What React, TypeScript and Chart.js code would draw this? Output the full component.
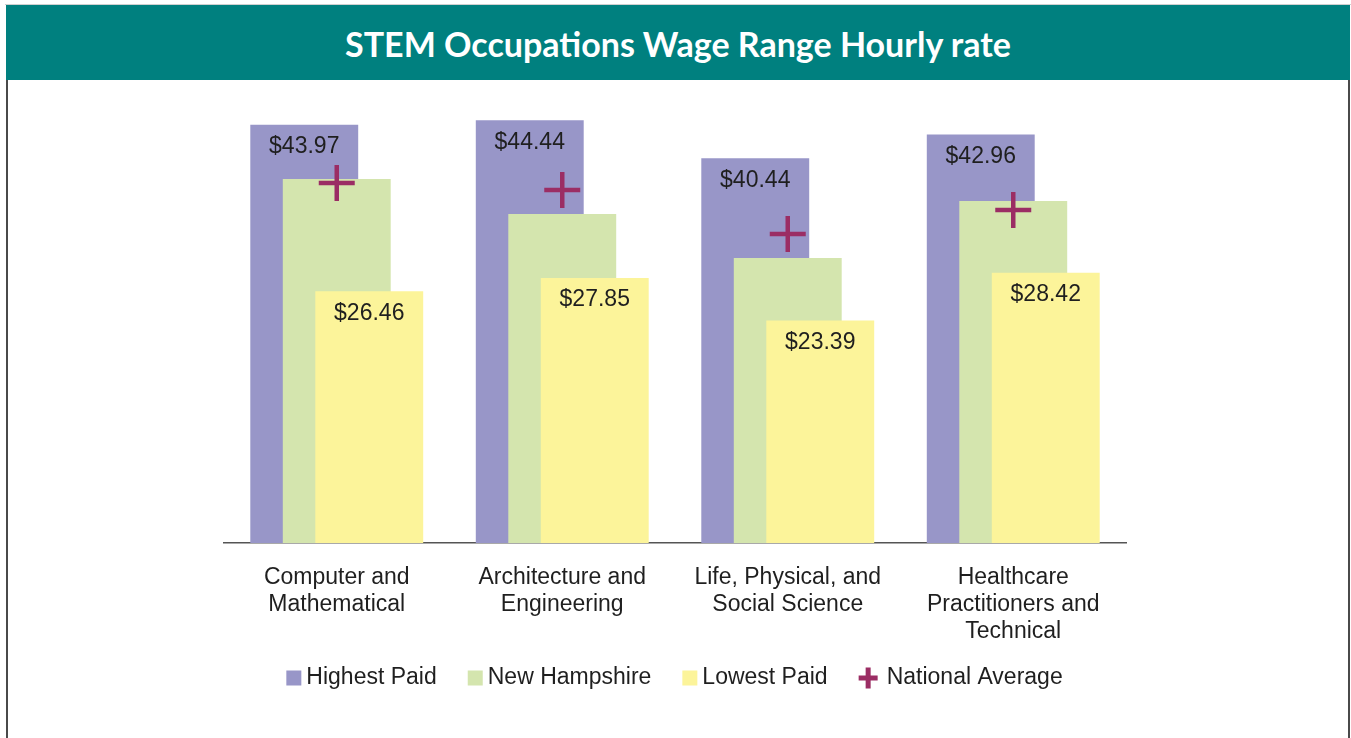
import React, { useEffect, useRef } from 'react';
import { Chart, registerables } from 'chart.js';

Chart.register(...registerables);

const categories: string[][] = [
  ['Computer and', 'Mathematical'],
  ['Architecture and', 'Engineering'],
  ['Life, Physical, and', 'Social Science'],
  ['Healthcare', 'Practitioners and', 'Technical'],
];
const highestPaid = [43.97, 44.44, 40.44, 42.96];
const newHampshire = [38.27, 34.59, 29.97, 35.96];
const lowestPaid = [26.46, 27.85, 23.39, 28.42];
const nationalAverage = [37.85, 37.11, 32.49, 35.01];
const seriesNames = ['Highest Paid', 'New Hampshire', 'Lowest Paid', 'National Average'];
const yMin = 0;
const yMax = 45;

const TITLE = 'STEM Occupations Wage Range Hourly rate';
const FONT = '"Liberation Sans", Arial, sans-serif';
const PURPLE = '#9896C8';
const GREEN = '#D4E5AE';
const YELLOW = '#FCF49A';
const PLUS = '#9B2D64';
const TEXT = '#1f1f1f';

const customPlugin = {
  id: 'customDraw',
  beforeDatasetsDraw(chart: any) {
    const metas = chart.getSortedVisibleDatasetMetas();
    for (const m of metas) chart._drawDataset(m);
    return false;
  },
  afterDraw(chart: any) {
    const ctx = chart.ctx as CanvasRenderingContext2D;
    ctx.save();
    ctx.font = `23px ${FONT}`;
    ctx.fillStyle = TEXT;
    ctx.textAlign = 'center';
    ctx.textBaseline = 'middle';
    const labelled: Array<[number, number]> = [[0, 22], [2, 22]];
    labelled.forEach(([di, off]) => {
      const meta = chart.getDatasetMeta(di);
      meta.data.forEach((el: any, i: number) => {
        const v = chart.data.datasets[di].data[i] as number;
        ctx.fillText('$' + v.toFixed(2), el.x, el.y + off);
      });
    });

    // legend
    const ds = chart.data.datasets;
    const gap = 31;
    const items = ds.map((d: any, i: number) => {
      const isPlus = i === 3;
      const boxW = isPlus ? 19 : 15;
      const textGap = isPlus ? 9 : 5;
      const tw = ctx.measureText(d.label).width;
      return { d, isPlus, boxW, textGap, tw, w: boxW + textGap + tw };
    });
    const total = items.reduce((s: number, it: any) => s + it.w, 0) + gap * (items.length - 1);
    let x = 674.5 - total / 2;
    const cy = 678;
    ctx.textAlign = 'left';
    items.forEach((it: any) => {
      if (it.isPlus) {
        ctx.fillStyle = PLUS;
        ctx.fillRect(x, cy - 2.5, it.boxW, 5);
        ctx.fillRect(x + it.boxW / 2 - 2.5, cy - 10.5, 5, 21);
      } else {
        ctx.fillStyle = it.d.backgroundColor;
        ctx.fillRect(x, cy - 7.5, 15, 15);
      }
      ctx.fillStyle = TEXT;
      ctx.fillText(it.d.label, x + it.boxW + it.textGap, cy);
      x += it.w + gap;
    });
    ctx.restore();
  },
};

export default function App() {
  const ref = useRef<HTMLCanvasElement | null>(null);

  useEffect(() => {
    document.body.style.margin = '0';
    const canvas = ref.current;
    if (!canvas) return;
    const chart = new Chart(canvas, {
      type: 'bar',
      data: {
        labels: categories,
        datasets: [
          { label: seriesNames[0], data: highestPaid, backgroundColor: PURPLE, order: 0 },
          { label: seriesNames[1], data: newHampshire, backgroundColor: GREEN, order: 0 },
          { label: seriesNames[2], data: lowestPaid, backgroundColor: YELLOW, order: 0 },
          {
            type: 'line',
            label: seriesNames[3],
            data: nationalAverage,
            showLine: false,
            pointStyle: 'cross',
            pointRadius: 18,
            pointHoverRadius: 18,
            pointBorderWidth: 4.5,
            pointHoverBorderWidth: 4.5,
            borderColor: PLUS,
            backgroundColor: PLUS,
            order: 0,
          } as any,
        ],
      },
      options: {
        responsive: false,
        animation: false,
        devicePixelRatio: 1,
        categoryPercentage: 0.4324,
        barPercentage: 3.32,
        layout: { padding: { left: 224, right: 225, top: 115, bottom: 0 } },
        plugins: {
          legend: { display: false },
          title: { display: false },
          tooltip: { enabled: false },
        },
        scales: {
          x: {
            grid: { display: false, drawTicks: false },
            border: { display: true, color: '#555555', width: 1.5 },
            ticks: {
              color: TEXT,
              font: { family: FONT, size: 23, lineHeight: 27 / 23 },
              padding: 21,
              maxRotation: 0,
              autoSkip: false,
            },
            afterFit(scale: any) {
              scale.height = 195;
            },
          },
          y: {
            display: false,
            min: yMin,
            max: yMax,
          },
        },
      } as any,
      plugins: [customPlugin],
    });
    return () => chart.destroy();
  }, []);

  return (
    <div style={{ position: 'fixed', left: 0, top: 0, width: 1351, height: 738, background: '#fff', overflow: 'hidden' }}>
      <div style={{ position: 'absolute', left: 5, right: 0, top: 4, height: 1, background: '#cfcfcf' }} />
      <div
        style={{
          position: 'absolute', left: 6, width: 1344, top: 5, height: 75, background: '#00807F',
          display: 'flex', alignItems: 'center', justifyContent: 'center',
          color: '#fff', fontFamily: 'Lato, "Open Sans", sans-serif', fontWeight: 700, fontSize: 34,
        }}
      >
        <span style={{ transform: 'translate(0px, 1px)' }}>{TITLE}</span>
      </div>
      <div style={{ position: 'absolute', left: 6, top: 80, width: 2, bottom: 0, background: '#4a4a4a' }} />
      <div style={{ position: 'absolute', left: 1348, top: 80, width: 2, bottom: 0, background: '#4a4a4a' }} />
      <canvas ref={ref} width={1351} height={738} style={{ position: 'absolute', left: 0, top: 0, width: 1351, height: 738 }} />
    </div>
  );
}
